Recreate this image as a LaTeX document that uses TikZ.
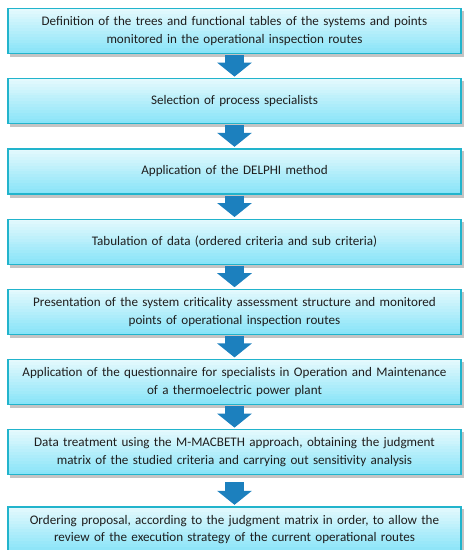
\documentclass[tikz,border=0pt]{standalone}
\usepackage{fontspec}
\setmainfont{Carlito}
\usepackage{tikz}
\usetikzlibrary{positioning,arrows.meta,calc,backgrounds}
\definecolor{boxtop}{HTML}{E4F9FD}
\definecolor{boxbot}{HTML}{88E4F8}
\definecolor{boxline}{HTML}{22B4CC}
\definecolor{arrowblue}{HTML}{1C80BE}
\definecolor{textgray}{HTML}{1E1E1E}
\definecolor{shadowgray}{HTML}{C4C4C4}

\begin{document}
\begin{tikzpicture}[
  stage/.style={draw=boxline, line width=1.2pt,
    minimum width=453pt, minimum height=45pt, text width=445pt, align=center,
    inner sep=0pt, text=textgray, font=\fontsize{13.1}{17.5}\selectfont},
  flow/.style={line width=19pt, arrowblue, -{Triangle[width=34pt,length=14pt]},
    shorten <=1pt, shorten >=1.5pt},
  node distance=24pt
]
\useasboundingbox (0,0) rectangle (469pt,-550pt);
\node[stage] (trees) at (234.5pt,-31pt) {Definition of the trees and functional tables of the systems and points\\ monitored in the operational inspection routes};
\node[stage, below=of trees] (spec) {Selection of process specialists};
\node[stage, below=of spec] (delphi) {Application of the DELPHI method};
\node[stage, below=of delphi] (tab) {Tabulation of data (ordered criteria and sub criteria)};
\node[stage, below=of tab] (pres) {Presentation of the system criticality assessment structure and monitored\\ points of operational inspection routes};
\node[stage, below=of pres] (quest) {Application of the questionnaire for specialists in Operation and Maintenance\\ of a thermoelectric power plant};
\node[stage, below=of quest] (macb) {Data treatment using the M-MACBETH approach, obtaining the judgment\\ matrix of the studied criteria and carrying out sensitivity analysis};
\node[stage, below=31pt of macb] (order) {Ordering proposal, according to the judgment matrix in order, to allow the\\ review of the execution strategy of the current operational routes};
% gradient fill and shadow behind the boxes
\begin{scope}[on background layer]
\foreach \n in {trees,spec,delphi,tab,pres,quest,macb,order}{
  \fill[shadowgray] ([xshift=2.5pt,yshift=-3pt]\n.north west) rectangle ([xshift=2.5pt,yshift=-3pt]\n.south east);
  \foreach \k in {0,...,15}{
    \pgfmathtruncatemacro\mix{100*\k/15}
    \fill[boxbot!\mix!boxtop] ($(\n.north west)!{\k/16}!(\n.south west)$) rectangle (\n.south east);
  }
}
\end{scope}
\draw[flow] (trees) -- (spec);
\draw[flow] (spec) -- (delphi);
\draw[flow] (delphi) -- (tab);
\draw[flow] (tab) -- (pres);
\draw[flow] (pres) -- (quest);
\draw[flow] (quest) -- (macb);
\draw[flow, shorten <=7pt] (macb) -- (order);
\end{tikzpicture}
\end{document}
